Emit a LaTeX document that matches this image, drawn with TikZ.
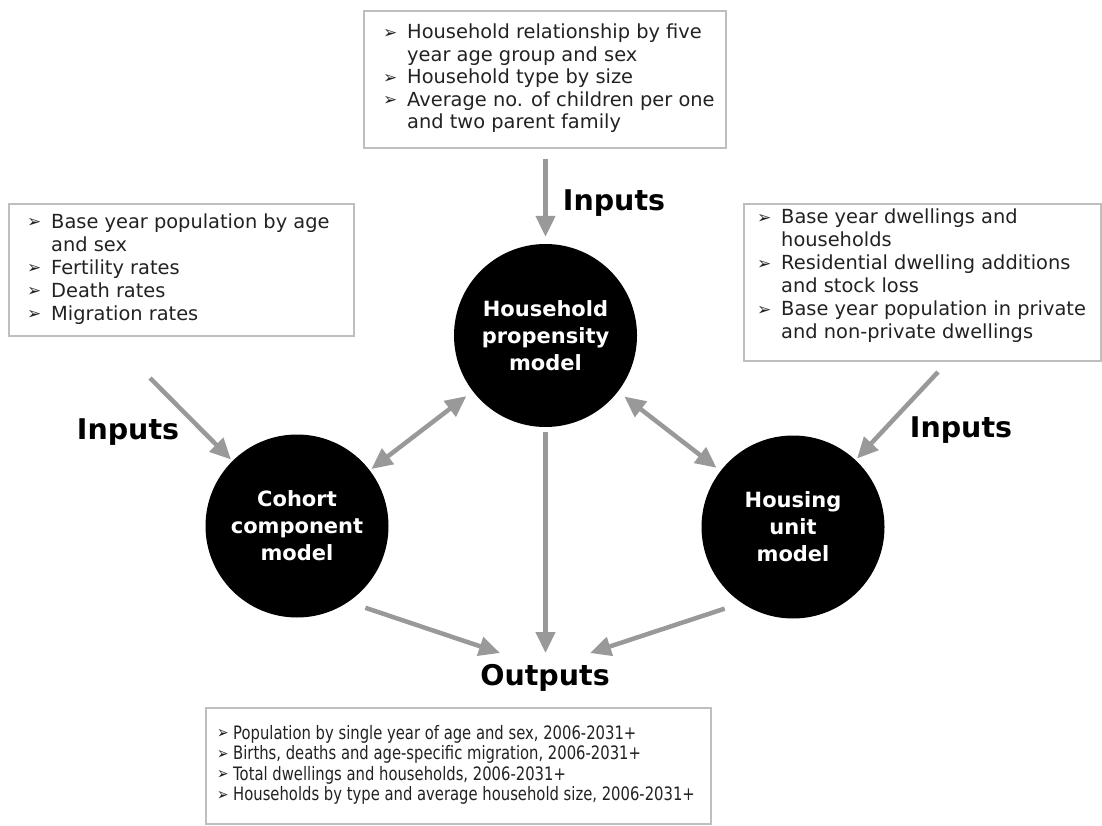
\documentclass[tikz,border=0pt]{standalone}
\usepackage{fontspec}
\setmainfont{DejaVu Sans}
\newfontfamily\narrowfont[FakeStretch=0.80]{DejaVu Sans}
\usetikzlibrary{arrows.meta,calc}
\definecolor{arrgray}{RGB}{153,153,153}
\definecolor{boxgray}{RGB}{190,190,190}
\definecolor{txt}{RGB}{34,34,34}
\newcommand\bu{\makebox[24pt][l]{\fontsize{17}{17}\selectfont\raisebox{0.5pt}{➢}}}
\newcommand\bun{\makebox[16pt][l]{\fontsize{17}{17}\selectfont\raisebox{0.5pt}{➢}}}
\newcommand\ind{\hspace*{24pt}}
\tikzset{
  framebox/.style={draw=boxgray, line width=1.6pt, anchor=north west, inner sep=0pt},
  listtext/.style={anchor=west, align=left, inner sep=0pt, text=txt},
  model/.style={circle, fill=black, minimum size=183pt, inner sep=0pt, align=center,
    text=white, font=\bfseries\fontsize{21}{27}\selectfont},
  biglabel/.style={font=\bfseries\fontsize{28.5}{30}\selectfont, text=black},
  arr/.style={draw=arrgray, line width=4.5pt, -{Triangle[length=21pt,width=19pt]}},
  darr/.style={draw=arrgray, line width=4.5pt, {Triangle[length=21pt,width=19pt]}-{Triangle[length=21pt,width=19pt]}}
}
\begin{document}
\begin{tikzpicture}[x=1pt,y=-1pt]
\useasboundingbox (0,0) rectangle (1102,826);
% frames
\node[framebox, minimum width=362pt, minimum height=137pt] (topbox) at (363,10) {};
\node[framebox, minimum width=345pt, minimum height=132pt] (leftbox) at (8,203) {};
\node[framebox, minimum width=357pt, minimum height=157pt] (rightbox) at (743,203) {};
\node[framebox, minimum width=505pt, minimum height=116pt] (botbox) at (205,707) {};
% list texts
\node[listtext, font=\fontsize{19.4}{22.5}\selectfont] (toptext) at (383,78.5)
  {\bu Household relationship by five\\ \ind year age group and sex\\ \bu Household type by size\\ \bu Average no. of children per one\\ \ind and two parent family};
\node[listtext, font=\fontsize{19.4}{23}\selectfont] (lefttext) at (27,269)
  {\bu Base year population by age\\ \ind and sex\\ \bu Fertility rates\\ \bu Death rates\\ \bu Migration rates};
\node[listtext, font=\fontsize{19.4}{23}\selectfont] (righttext) at (757,276)
  {\bu Base year dwellings and\\ \ind households\\ \bu Residential dwelling additions\\ \ind and stock loss\\ \bu Base year population in private\\ \ind and non-private dwellings};
\node[listtext, font=\narrowfont\fontsize{18.5}{20.5}\selectfont] (bottext) at (217,765)
  {\bun Population by single year of age and sex, 2006-2031+\\ \bun Births, deaths and age-specific migration, 2006-2031+\\ \bun Total dwellings and households, 2006-2031+\\ \bun Households by type and average household size, 2006-2031+};
% models
\node[model] (hh) at (545.5,335.5) {Household\\propensity\\model};
\node[model] (coh) at (297,526) {Cohort\\component\\model};
\node[model] (hu) at (793,527) {Housing\\unit\\model};
% labels
\node[biglabel] (inT) at (614,203) {Inputs};
\node[biglabel] (inLl) at (128,432) {Inputs};
\node[biglabel] (inRl) at (961,430) {Inputs};
\node[biglabel] (outl) at (545,678) {Outputs};
% free ends
\coordinate (inL) at (150,378);
\coordinate (inR) at (938,372);
\coordinate (oL) at (500,653);
\coordinate (oC) at (545.5,653);
\coordinate (oR) at (590,653);
% arrows
\draw[arr, shorten <=10pt, shorten >=7pt] (topbox.south -| hh) -- (hh.north);
\draw[arr, shorten >=2pt] (inL) -- (coh);
\draw[arr, shorten >=2pt] (inR) -- (hu);
\draw[darr, shorten <=2pt, shorten >=8pt] (coh) -- (hh);
\draw[darr, shorten <=8pt, shorten >=5pt] (hh) -- (hu);
\draw[arr, shorten <=18pt] (coh.-56) -- (oL);
\draw[arr, shorten <=5pt] (hh.south) -- (oC);
\draw[arr, shorten <=18pt] (hu.236) -- (oR);
\end{tikzpicture}
\end{document}
